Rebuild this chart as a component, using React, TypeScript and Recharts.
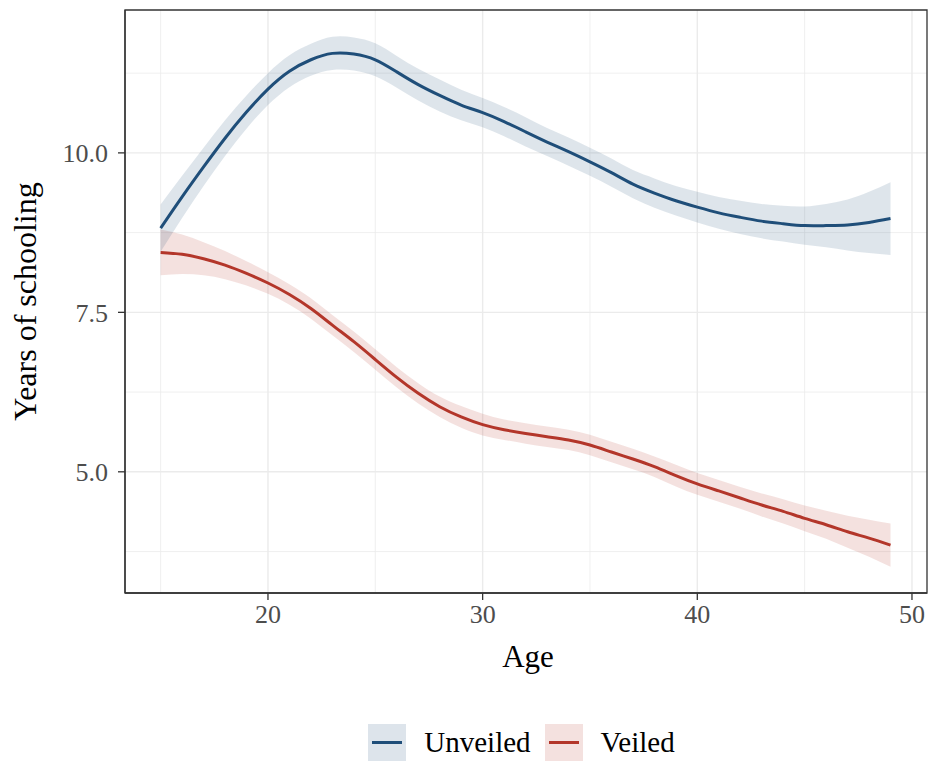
import React from 'react';
import {
  ComposedChart,
  Area,
  Line,
  XAxis,
  YAxis,
  CartesianGrid,
  Legend,
  ReferenceArea,
} from 'recharts';

// Ages on the x axis
const ages = [
  15, 16, 17, 18, 19, 20, 21, 22, 23, 24, 25, 26, 27, 28, 29, 30, 31, 32,
  33, 34, 35, 36, 37, 38, 39, 40, 41, 42, 43, 44, 45, 46, 47, 48, 49,
];

// Smoothed years of schooling
const unveiled = [
  8.82, 9.31, 9.78, 10.23, 10.64, 11.0, 11.28, 11.46, 11.56, 11.55, 11.46,
  11.27, 11.07, 10.9, 10.75, 10.63, 10.49, 10.33, 10.17, 10.02, 9.86, 9.69,
  9.51, 9.37, 9.25, 9.15, 9.06, 8.99, 8.93, 8.89, 8.86, 8.86, 8.87, 8.91, 8.97,
];
const unveiledHalfBand = [
  0.37, 0.33, 0.3, 0.28, 0.26, 0.25, 0.25, 0.25, 0.26, 0.26, 0.26, 0.25, 0.25,
  0.25, 0.24, 0.23, 0.23, 0.23, 0.22, 0.22, 0.22, 0.22, 0.22, 0.23, 0.23, 0.24,
  0.25, 0.26, 0.27, 0.28, 0.3, 0.34, 0.4, 0.48, 0.57,
];

const veiled = [
  8.44, 8.41, 8.34, 8.24, 8.11, 7.96, 7.78, 7.56, 7.3, 7.04, 6.76, 6.48, 6.23,
  6.02, 5.86, 5.74, 5.66, 5.6, 5.55, 5.5, 5.42, 5.31, 5.2, 5.08, 4.94, 4.81,
  4.7, 4.59, 4.48, 4.38, 4.27, 4.17, 4.06, 3.96, 3.85,
];
const veiledHalfBand = [
  0.36, 0.31, 0.26, 0.22, 0.19, 0.17, 0.16, 0.16, 0.16, 0.16, 0.16, 0.16, 0.16,
  0.16, 0.17, 0.17, 0.16, 0.16, 0.16, 0.16, 0.16, 0.16, 0.16, 0.16, 0.17, 0.17,
  0.17, 0.17, 0.18, 0.19, 0.2, 0.22, 0.25, 0.29, 0.34,
];

// Ticks and grid lines
const xMajor = [20, 30, 40, 50];
const xMinor = [15, 25, 35, 45];
const yMajor = [5, 7.5, 10];
const yMinor = [3.75, 6.25, 8.75, 11.25];

const X_DOMAIN: [number, number] = [13.34, 50.7];
const Y_DOMAIN: [number, number] = [3.1, 12.24];

const BLUE = '#1f4e79';
const RED = '#b3362a';

const data = ages.map((age, i) => ({
  age,
  unveiled: unveiled[i],
  unveiledBand: [unveiled[i] - unveiledHalfBand[i], unveiled[i] + unveiledHalfBand[i]],
  veiled: veiled[i],
  veiledBand: [veiled[i] - veiledHalfBand[i], veiled[i] + veiledHalfBand[i]],
}));

const legendItems = [
  { name: 'Unveiled', color: BLUE },
  { name: 'Veiled', color: RED },
];

function LegendContent() {
  return (
    <div
      style={{
        height: 40,
        width: 933,
        paddingLeft: 124,
        boxSizing: 'border-box',
        display: 'flex',
        justifyContent: 'center',
        alignItems: 'center',
        fontSize: 29,
        color: '#000',
      }}
    >
      {legendItems.map((item) => (
        <div key={item.name} style={{ display: 'flex', alignItems: 'center', marginRight: 14 }}>
          <div
            style={{
              width: 38,
              height: 37,
              position: 'relative',
              background: item.color,
            }}
          >
            <div style={{ position: 'absolute', inset: 0, background: 'rgba(255,255,255,0.85)' }} />
            <div
              style={{
                position: 'absolute',
                left: 4,
                right: 4,
                top: 17,
                height: 3,
                background: item.color,
              }}
            />
          </div>
          <span style={{ marginLeft: 18 }}>{item.name}</span>
        </div>
      ))}
    </div>
  );
}

function XTitle(props: any) {
  const { viewBox } = props;
  const cx = viewBox.x + viewBox.width / 2 + 2;
  return (
    <text x={cx} y={viewBox.y + 74} textAnchor="middle" fontSize={31} fill="#000">
      Age
    </text>
  );
}

function YTitle(props: any) {
  const { viewBox } = props;
  const cx = 36;
  const cy = viewBox.y + viewBox.height / 2;
  return (
    <text
      x={cx}
      y={cy}
      transform={`rotate(-90 ${cx} ${cy})`}
      textAnchor="middle"
      fontSize={32}
      fill="#000"
    >
      Years of schooling
    </text>
  );
}

export default function App() {
  return (
    <div
      style={{
        position: 'absolute',
        left: 0,
        top: 0,
        width: 933,
        height: 762,
        background: '#fff',
        fontFamily: '"Liberation Serif", serif',
      }}
    >
      <ComposedChart width={933} height={762} data={data} margin={{ top: 10, right: 6, bottom: 0, left: 0 }}>
        <CartesianGrid stroke="#ebebeb" strokeWidth={0.8} horizontalValues={yMinor} verticalValues={xMinor} />
        <CartesianGrid stroke="#ebebeb" strokeWidth={1.4} horizontalValues={yMajor} verticalValues={xMajor} />
        <XAxis
          dataKey="age"
          type="number"
          domain={X_DOMAIN}
          ticks={xMajor}
          height={129}
          tickSize={7}
          tickMargin={5}
          axisLine={{ stroke: '#333', strokeWidth: 1.3 }}
          tickLine={{ stroke: '#333', strokeWidth: 1.3 }}
          tick={{ fill: '#4d4d4d', fontSize: 26 }}
          label={<XTitle />}
        />
        <YAxis
          type="number"
          domain={Y_DOMAIN}
          ticks={yMajor}
          width={125}
          tickSize={7}
          tickMargin={10}
          tickFormatter={(v: number) => v.toFixed(1)}
          axisLine={{ stroke: '#333', strokeWidth: 1.3 }}
          tickLine={{ stroke: '#333', strokeWidth: 1.3 }}
          tick={{ fill: '#4d4d4d', fontSize: 26 }}
          label={<YTitle />}
        />
        <Area
          dataKey="veiledBand"
          type="natural"
          stroke="none"
          fill={RED}
          fillOpacity={0.15}
          isAnimationActive={false}
          legendType="none"
        />
        <Area
          dataKey="unveiledBand"
          type="natural"
          stroke="none"
          fill={BLUE}
          fillOpacity={0.15}
          isAnimationActive={false}
          legendType="none"
        />
        <Line dataKey="unveiled" type="natural" stroke={BLUE} strokeWidth={3} dot={false} isAnimationActive={false} />
        <Line dataKey="veiled" type="natural" stroke={RED} strokeWidth={3} dot={false} isAnimationActive={false} />
        <ReferenceArea
          x1={X_DOMAIN[0]}
          x2={X_DOMAIN[1]}
          y1={Y_DOMAIN[0]}
          y2={Y_DOMAIN[1]}
          fill="none"
          stroke="#333"
          strokeWidth={1.3}
        />
        <Legend
          verticalAlign="bottom"
          content={<LegendContent />}
          wrapperStyle={{ left: 0, width: 933 }}
        />
      </ComposedChart>
    </div>
  );
}
